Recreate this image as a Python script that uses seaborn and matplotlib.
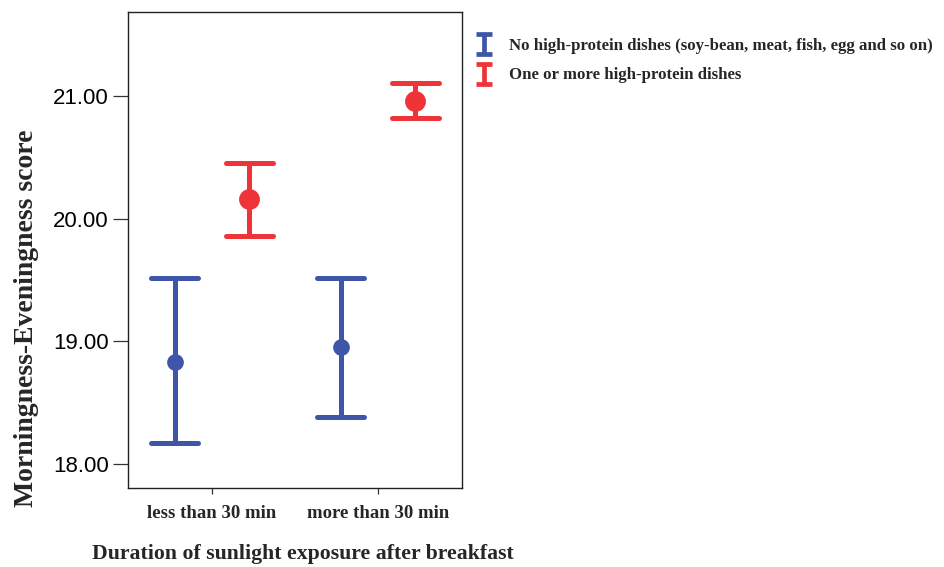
import pandas as pd
import numpy as np
import matplotlib
matplotlib.use("Agg")
import matplotlib.pyplot as plt
from matplotlib.path import Path
from matplotlib.lines import Line2D
import seaborn as sns

# values
durations = ["less than 30 min", "more than 30 min"]
groups = ["No high-protein dishes (soy-bean, meat, fish, egg and so on)",
          "One or more high-protein dishes"]
# per group, in duration order
mean_vals = {groups[0]: [18.83, 18.95], groups[1]: [20.16, 20.96]}
lower_vals = {groups[0]: [18.17, 18.38], groups[1]: [19.86, 20.82]}
upper_vals = {groups[0]: [19.52, 19.52], groups[1]: [20.46, 21.11]}
yticks = [18.0, 19.0, 20.0, 21.0]

blue = "#3F56A8"
red = "#EE3339"
palette = {groups[0]: blue, groups[1]: red}

# long table: lower / mean / upper for each cell -> median = mean, min/max = interval
rows = []
for g in groups:
    for i, d in enumerate(durations):
        for v in (lower_vals[g][i], mean_vals[g][i], upper_vals[g][i]):
            rows.append({"duration": d, "group": g, "score": v})
df = pd.DataFrame(rows)

sns.set_style("white")
fig = plt.figure(figsize=(9.45, 5.67), dpi=100)
ax = fig.add_axes([128 / 945, 1 - 488 / 567, 334 / 945, 476 / 567])

sns.pointplot(data=df, x="duration", y="score", hue="group",
              order=durations, hue_order=groups, palette=palette,
              estimator="median", errorbar=lambda x: (x.min(), x.max()),
              dodge=0.45, linestyle="none", markers="o", capsize=0.28,
              err_kws={"linewidth": 3.6}, markersize=10, legend=False, ax=ax)

# red points drawn a bit larger
for ln in ax.lines:
    if ln.get_marker() == "o" and matplotlib.colors.to_hex(ln.get_color()).lower() == red.lower():
        ln.set_markersize(13)

ax.set_xlim(-0.505, 1.505)
ax.set_ylim(17.80, 21.69)
ax.set_yticks(yticks)
ax.set_yticklabels([f"{t:.2f}" for t in yticks], fontsize=16, family="Liberation Sans",
                   color="black")
ax.set_xticks(range(len(durations)))
ax.set_xticklabels(durations, fontsize=13.5, family="Liberation Serif", fontweight="bold")
ax.tick_params(axis="y", length=11, width=0.9, pad=3, color="#333333", left=True)
ax.tick_params(axis="x", length=4, width=0.9, pad=8, color="#333333", bottom=True)
for s in ax.spines.values():
    s.set_color("#222222")
    s.set_linewidth(1.0)

ax.set_ylabel("Morningness-Eveningness score", fontsize=20, family="Liberation Serif",
              fontweight="bold")
ax.yaxis.set_label_coords(-0.266, 0.357)
ax.set_xlabel("Duration of sunlight exposure after breakfast", fontsize=15.7,
              family="Liberation Serif", fontweight="bold")
ax.xaxis.set_label_coords(0.524, -0.118)
ax.xaxis.label.set_va("top")

# I-shaped legend handles
ibar = Path([(-0.375, -0.5), (0.375, -0.5), (0, -0.5), (0, 0.5), (-0.375, 0.5), (0.375, 0.5)],
            [Path.MOVETO, Path.LINETO, Path.MOVETO, Path.LINETO, Path.MOVETO, Path.LINETO])
handles = [Line2D([], [], linestyle="none", marker=ibar, markersize=15,
                  markeredgewidth=3.4, color=palette[g]) for g in groups]
fig.legend(handles, groups, loc="upper left", bbox_to_anchor=(476 / 945, 1 - 38 / 567),
           frameon=False, borderpad=0, borderaxespad=0, handlelength=1.0,
           handletextpad=0.95, labelspacing=0.8,
           prop={"family": "Liberation Serif", "weight": "bold", "size": 12.1})

fig.savefig("out.png", dpi=100)
